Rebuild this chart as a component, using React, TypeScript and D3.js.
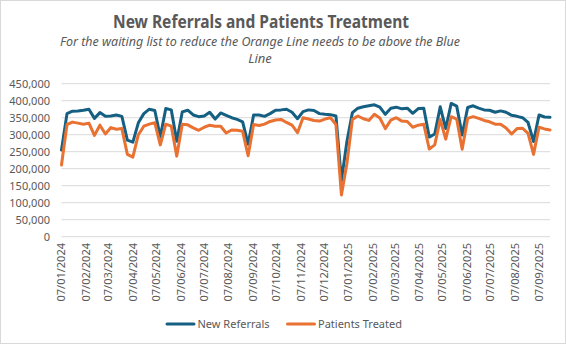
import React from "react";
import * as d3 from "d3";

const startDate = "2024-01-07";
const newReferrals = [
  255, 362, 369, 370, 372, 375, 348, 365, 354, 355, 358, 354, 284, 278, 335,
  362, 375, 371, 294, 377, 373, 281, 367, 372, 358, 353, 355, 366, 346, 364,
  357, 350, 345, 338, 272, 358, 358, 354, 362, 372, 373, 375, 366, 347, 368,
  373, 371, 362, 360, 359, 355, 165, 280, 365, 378, 382, 385, 388, 381, 360,
  378, 381, 376, 378, 363, 377, 378, 293, 302, 382, 318, 392, 384, 299, 380,
  385, 378, 373, 372, 366, 370, 366, 357, 354, 350, 336, 280, 358, 352, 351,
];
const patientsTreated = [
  211, 330, 337, 334, 331, 334, 298, 328, 302, 321, 316, 318, 242, 234, 300,
  325, 331, 335, 270, 331, 325, 237, 331, 329, 320, 313, 322, 328, 325, 325,
  305, 314, 313, 310, 238, 330, 327, 331, 339, 343, 345, 336, 328, 306, 350,
  346, 342, 340, 346, 350, 330, 123, 215, 345, 355, 347, 342, 360, 349, 318,
  343, 350, 340, 339, 322, 328, 331, 258, 270, 345, 287, 353, 346, 257, 348,
  353, 348, 342, 338, 331, 331, 320, 302, 318, 319, 304, 242, 322, 317, 314,
];
const yTicks = [0, 50000, 100000, 150000, 200000, 250000, 300000, 350000, 400000, 450000];
const seriesNames = ["New Referrals", "Patients Treated"];
const colors = ["#156082", "#E97132"];

const W = 566;
const H = 344;
const font = "'Noto Sans', 'Liberation Sans', sans-serif";
const textColor = "#595959";

export default function App() {
  const start = new Date(startDate + "T00:00:00");
  const dates = newReferrals.map((_, i) => d3.timeDay.offset(start, i * 7));
  const x = d3
    .scaleTime()
    .domain([dates[0], dates[dates.length - 1]])
    .range([61.5, 550]);
  const y = d3.scaleLinear().domain([0, 450000]).range([236.7, 83.7]);
  const monthTicks = d3.timeMonth
    .every(1)!
    .range(new Date(2024, 0, 1), new Date(2025, 9, 1))
    .map((d) => new Date(d.getFullYear(), d.getMonth(), 7))
    .filter((d) => d >= dates[0] && d <= dates[dates.length - 1]);
  const fmtDate = d3.timeFormat("%d/%m/%Y");
  const fmtNum = d3.format(",");
  const line = d3
    .line<number>()
    .x((_, i) => x(dates[i]))
    .y((v) => y(v * 1000))
    .curve(d3.curveLinear);
  const series = [newReferrals, patientsTreated];

  return (
    <svg width={W} height={H} style={{ position: "absolute", left: 0, top: 0 }} fontFamily={font}>
      <rect x={0.5} y={0.5} width={W - 1} height={H - 1} fill="#fff" stroke="#d9d9d9" />
      <text x={261} y={28} textAnchor="middle" fontSize={18} fontWeight="bold" fill={textColor} textLength={296} lengthAdjust="spacingAndGlyphs">
        New Referrals and Patients Treatment
      </text>
      <text x={260} y={45.7} textAnchor="middle" fontSize={13} fontStyle="italic" fill={textColor} textLength={400} lengthAdjust="spacingAndGlyphs">
        For the waiting list to reduce the Orange Line needs to be above the Blue
      </text>
      <text x={260} y={62.7} textAnchor="middle" fontSize={13} fontStyle="italic" fill={textColor}>
        Line
      </text>
      {yTicks.map((t) => (
        <g key={t}>
          <line x1={61.5} x2={550} y1={y(t)} y2={y(t)} stroke="#d9d9d9" strokeWidth={1} />
          <text x={50} y={y(t)} dy="0.35em" textAnchor="end" fontSize={11} fill={textColor}>
            {fmtNum(t)}
          </text>
        </g>
      ))}
      {monthTicks.map((d) => (
        <text
          key={d.toISOString()}
          transform={`translate(${x(d)},243) rotate(-90)`}
          dy="0.35em"
          textAnchor="end"
          fontSize={11}
          fill={textColor}
        >
          {fmtDate(d)}
        </text>
      ))}
      {series.map((s, i) => (
        <path key={i} d={line(s) || ""} fill="none" stroke={colors[i]} strokeWidth={3} strokeLinejoin="round" strokeLinecap="round" />
      ))}
      {seriesNames.map((n, i) => {
        const lx = i === 0 ? 167 : 287.5;
        return (
          <g key={n}>
            <line x1={lx} x2={lx + 27} y1={324} y2={324} stroke={colors[i]} strokeWidth={3} strokeLinecap="round" />
            <text x={lx + 30.5} y={324} dy="0.35em" fontSize={11} fill={textColor}>
              {n}
            </text>
          </g>
        );
      })}
    </svg>
  );
}
